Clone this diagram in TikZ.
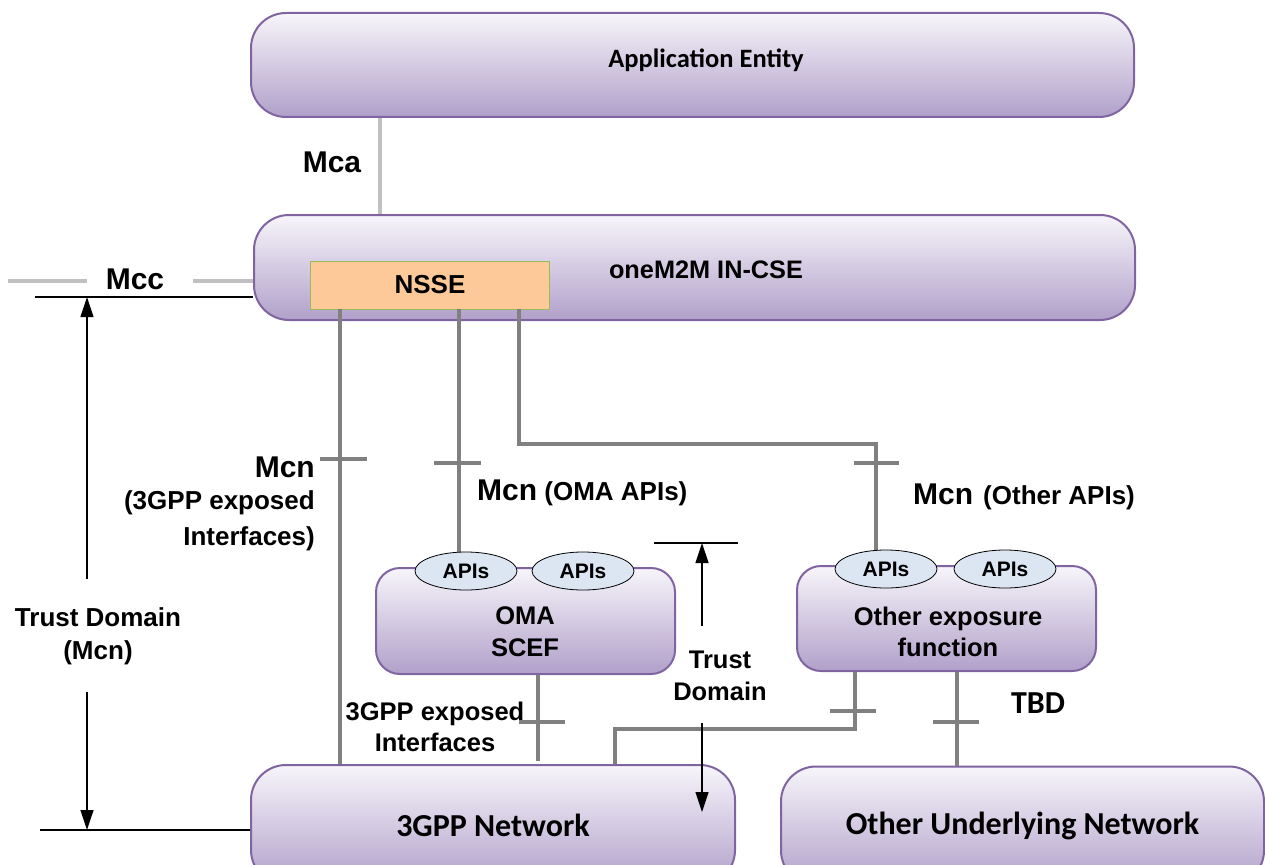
\documentclass[tikz,border=0pt]{standalone}
\usepackage{fontspec}
\setmainfont{Liberation Sans}
\newfontfamily\calfont{Carlito}
\usetikzlibrary{arrows.meta,shapes.geometric}
\definecolor{boxtop}{HTML}{F7F5FA}
\definecolor{boxbot}{HTML}{B1A0CA}
\definecolor{boxedge}{HTML}{8064A2}
\definecolor{conn}{HTML}{808080}
\definecolor{lightconn}{HTML}{C0C0C0}
\definecolor{nssefill}{HTML}{FDC998}
\definecolor{nsseedge}{HTML}{9BBB59}
\definecolor{apifill}{HTML}{DCE6F2}
\newcommand{\fs}[1]{\fontsize{#1}{#1}\selectfont}
\newcommand{\fsl}[2]{\fontsize{#1}{#2}\selectfont}
\begin{document}
\begin{tikzpicture}[x=1pt,y=-1pt,
  ent/.style={draw=boxedge, line width=2pt, rounded corners=#1, top color=boxtop, bottom color=boxbot, inner sep=0pt, rectangle},
  apinode/.style={ellipse, draw=black, line width=0.8pt, fill=apifill, minimum width=102pt, minimum height=38pt, inner sep=0pt, font=\bfseries\fs{21}},
  iface/.style={draw=conn, line width=3.2pt},
  lightiface/.style={draw=lightconn, line width=3.2pt},
  tickmark/.style={draw=conn, line width=3.2pt},
  dimline/.style={draw=black, line width=1.2pt},
  dimarrow/.style={draw=black, line width=1.2pt, -{Triangle[length=20pt,width=13pt]}},
  lbl/.style={font=\bfseries\fs{26}, inner sep=0pt, align=center},
  biglbl/.style={font=\bfseries\fs{30}, inner sep=0pt},
  callbl/.style={font=\calfont\bfseries\fs{#1}, inner sep=0pt, align=center}
]
\useasboundingbox (0,0) rectangle (1265,864);

% boxes
\node[ent=35pt, minimum width=883pt, minimum height=104pt] (ae) at (692.5,65) {};
\node[ent=35pt, minimum width=881pt, minimum height=105pt] (cse) at (694.5,267.5) {};
\node[draw=nsseedge, line width=0.8pt, fill=nssefill, minimum width=239pt, minimum height=48pt, inner sep=0pt] (nsse) at (429.5,285) {};
\node[ent=24pt, minimum width=299pt, minimum height=106pt] (oma) at (525.5,621) {};
\node[ent=24pt, minimum width=299pt, minimum height=105pt] (oth) at (946.5,618.5) {};
\node[ent=35pt, minimum width=484pt, minimum height=120pt, callbl=32] (tgpp) at (493,825) {3GPP Network};
\node[ent=35pt, minimum width=483pt, minimum height=119pt, callbl=32] (oun) at (1022.5,826) {Other Underlying Network};

% x positions of connectors
\coordinate (xa) at (380,0);
\coordinate (x1) at (340,0);
\coordinate (x2) at (459,0);
\coordinate (x3) at (519,0);
\coordinate (x4) at (538,0);
\coordinate (x5) at (855,0);
\coordinate (x5b) at (615,0);
\coordinate (x6) at (957,0);
\coordinate (e2) at (459,554);
\coordinate (e3) at (876,552);

% Mca
\draw[lightiface] (ae.south -| xa) -- (cse.north -| xa);
% Mcc
\coordinate (mccl1) at (8,281);
\coordinate (mccl2) at (87,281);
\coordinate (mccr) at (193,281);
\draw[lightiface] (mccl1) -- (mccl2);
\draw[lightiface] (mccr) -- (cse.west |- mccr);

% Mcn connectors
\draw[iface] (nsse.south -| x1) -- (tgpp.north -| x1);
\draw[tickmark] (320,459) -- (367,459);
\draw[iface] (nsse.south -| x2) -- (e2);
\draw[tickmark] (434,463) -- (481,463);
\coordinate (bend3) at (876,444);
\draw[iface] (nsse.south -| x3) |- (bend3) -- (e3);
\draw[tickmark] (854,463) -- (899,463);
\draw[iface] (oma.south -| x4) -- ([yshift=3pt]tgpp.north -| x4);
\draw[tickmark] (519,722) -- (565,722);
\coordinate (bend5) at (855,729);
\draw[iface] (oth.south -| x5) -- (bend5) -- (x5b |- bend5) -- (tgpp.north -| x5b);
\draw[tickmark] (830,711) -- (876,711);
\draw[iface] (oth.south -| x6) -- (oun.north -| x6);
\draw[tickmark] (933,722) -- (979,722);

% API ellipses
\node[apinode] (api1) at (466,571) {APIs};
\node[apinode] (api2) at (583,571) {APIs};
\node[apinode] (api3) at (886,569) {APIs};
\node[apinode] (api4) at (1005,569) {APIs};

% Trust domain (left)
\coordinate (tdl1) at (35,297);
\coordinate (tdl2) at (40,830);
\draw[dimline] (tdl1) -- (cse.west |- tdl1);
\draw[dimline] (tdl2) -- (tgpp.west |- tdl2);
\coordinate (tdu) at (87,579);
\coordinate (tdd) at (87,692);
\draw[dimarrow] (tdu) -- (tdu |- tdl1);
\draw[dimarrow] (tdd) -- (tdd |- tdl2);

% Trust domain (middle)
\coordinate (tm1) at (654,543);
\coordinate (tm2) at (738,543);
\draw[dimline] (tm1) -- (tm2);
\coordinate (tmu) at (702,626);
\draw[dimarrow] (tmu) -- (tmu |- tm1);
\coordinate (tmd) at (702,723);
\coordinate (tme) at (702,812);
\draw[dimarrow] (tmd) -- (tme);

% texts
\node[callbl=26.5] (aetext) at (706,60) {Application Entity};
\node[lbl, font=\bfseries\fs{25.3}] (csetext) at (706,270) {oneM2M IN-CSE};
\node[lbl] (nssetext) at (430,285) {NSSE};
\node[biglbl] (mca) at (332,162) {Mca};
\node[biglbl] (mcc) at (135,279) {Mcc};
\node[biglbl, anchor=east] (mcnl) at (315,467) {Mcn};
\node[lbl, anchor=east] (mcnl2) at (315,503) {(3GPP exposed};
\node[lbl, anchor=east] (mcnl3) at (315,539) {Interfaces)};
\node[lbl, font=\bfseries\fsl{26}{33}] (tdtext) at (98,636) {Trust Domain\\(Mcn)};
\node[lbl, anchor=west] (mcnoma) at (477,493) {{\fs{30}Mcn} (OMA APIs)};
\node[lbl, anchor=west] (mcnoth) at (913,497) {{\fs{30}Mcn}\hspace{10pt}(Other APIs)};
\node[lbl, font=\bfseries\fsl{25.5}{32}] (tdmid) at (720,676) {Trust\\Domain};
\node[lbl, font=\bfseries\fsl{25.5}{31}] (expif) at (435,727) {3GPP exposed\\Interfaces};
\node[callbl=32] (tbd) at (1038,703) {TBD};
\node[lbl, font=\bfseries\fsl{25.5}{32}] (omatext) at (525,632) {OMA\\SCEF};
\node[lbl, font=\bfseries\fsl{25.5}{31}] (othtext) at (948,632) {Other exposure\\function};
\end{tikzpicture}
\end{document}
